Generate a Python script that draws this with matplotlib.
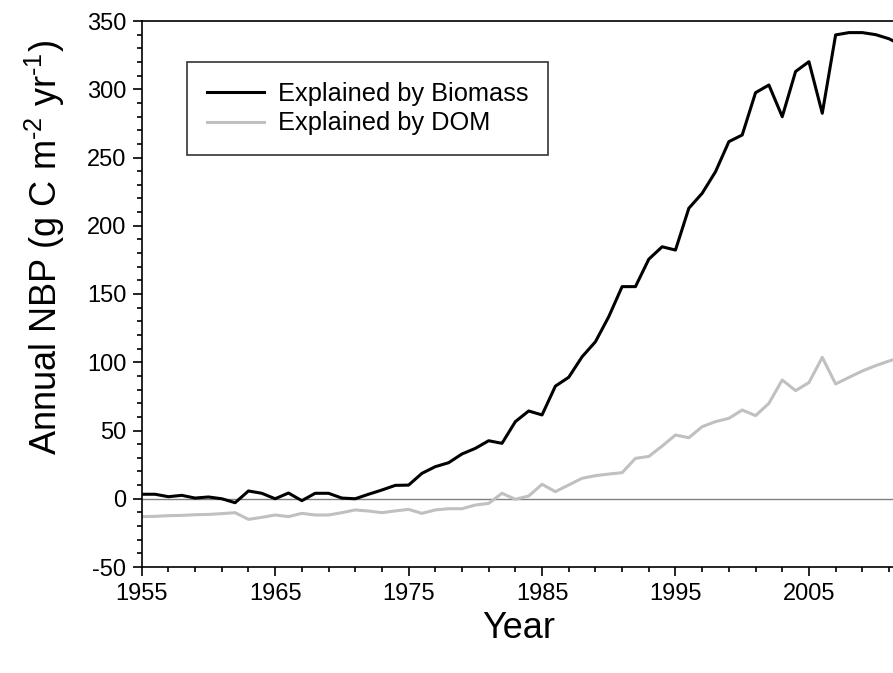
import matplotlib
matplotlib.use("Agg")
import matplotlib.pyplot as plt
from matplotlib.ticker import MultipleLocator

plt.rcParams['font.family'] = ['Liberation Sans', 'DejaVu Sans']
plt.rcParams['axes.unicode_minus'] = False
plt.rcParams['mathtext.fontset'] = 'custom'
plt.rcParams['mathtext.rm'] = 'Liberation Sans'
plt.rcParams['mathtext.default'] = 'regular'

years = list(range(1955, 2013))

# NBP explained by biomass change (g C m-2 yr-1)
biomass = [3.3, 3.3, 1.5, 2.5, 0.5, 1.3, 0.0, -2.9, 5.7, 4.0,          # 1955-64
           0.0, 4.2, -1.4, 4.0, 4.0, 0.5, 0.0, 3.3, 6.4, 9.8,           # 1965-74
           10.0, 18.6, 23.5, 26.4, 32.8, 36.9, 42.5, 40.6, 56.5, 64.3,  # 1975-84
           61.4, 82.5, 89.0, 104.0, 115.0, 133.4, 155.4, 155.4, 175.5, 184.6,  # 1985-94
           182.2, 212.8, 223.8, 239.6, 261.6, 266.5, 297.5, 303.1, 279.9, 313.0,  # 1995-2004
           320.2, 282.4, 339.8, 341.5, 341.5, 340.0, 337.0, 332.0]      # 2005-12

# NBP explained by dead organic matter
dom = [-13.1, -12.9, -12.4, -12.2, -11.7, -11.5, -10.9, -10.2, -15.1, -13.6,
       -11.9, -13.1, -10.7, -11.9, -11.9, -10.2, -8.2, -9.0, -10.2, -8.9,
       -7.8, -10.7, -8.2, -7.3, -7.3, -4.6, -3.4, 4.0, -0.4, 2.0,
       10.6, 5.2, 10.1, 15.0, 16.9, 18.1, 19.1, 29.6, 31.0, 38.6,
       46.7, 44.7, 52.8, 56.5, 58.9, 65.0, 60.9, 69.9, 87.0, 79.2,
       85.1, 103.6, 84.1, 88.9, 93.6, 97.5, 100.9, 104.0]

W, H = 893, 673
fig = plt.figure(figsize=(W / 100, H / 100), dpi=100)
ax = fig.add_axes([141.7 / W, 1 - 567 / H, 1 - 141.7 / W, (567 - 21) / H])

ax.axhline(0, color='#808080', lw=1.0, zorder=1)
ax.plot(years, biomass, color='black', lw=2.2, label='Explained by Biomass', zorder=3)
ax.plot(years, dom, color='#c0c0c0', lw=2.2, label='Explained by DOM', zorder=2)

ax.set_xlim(1955, 2011.3)
ax.set_ylim(-50, 350)
ax.xaxis.set_major_locator(MultipleLocator(10, offset=5))
ax.xaxis.set_minor_locator(MultipleLocator(2, offset=1))
ax.yaxis.set_major_locator(MultipleLocator(50))
ax.yaxis.set_minor_locator(MultipleLocator(10))
ax.tick_params(which='both', direction='out', width=1.2, labelsize=17, colors='black')
ax.tick_params(which='major', length=6.5)
ax.tick_params(axis='x', which='major', pad=5)
ax.tick_params(axis='y', which='major', pad=4.5)
ax.tick_params(which='minor', length=3.8)
ax.spines['right'].set_visible(False)
for s in ['left', 'top', 'bottom']:
    ax.spines[s].set_linewidth(1.2)

leg = ax.legend(loc='upper left', bbox_to_anchor=((187 - 141.7) / (W - 141.7), (567 - 62) / 546),
                fontsize=18.3, frameon=True, fancybox=False, edgecolor='black',
                handlelength=2.25, handletextpad=0.55, labelspacing=0.22,
                borderpad=0.78, borderaxespad=0)
leg.get_frame().set_linewidth(1.2)

fig.text(45 / W, 1 - 248 / H, r'Annual NBP (g C m$^{\text{-2}}$ yr$^{\text{-1}}$)', rotation=90,
         ha='center', va='center', fontsize=26)
fig.text(519 / W, 1 - 628 / H, 'Year', ha='center', va='center', fontsize=26)

fig.savefig('out.png', dpi=100)
